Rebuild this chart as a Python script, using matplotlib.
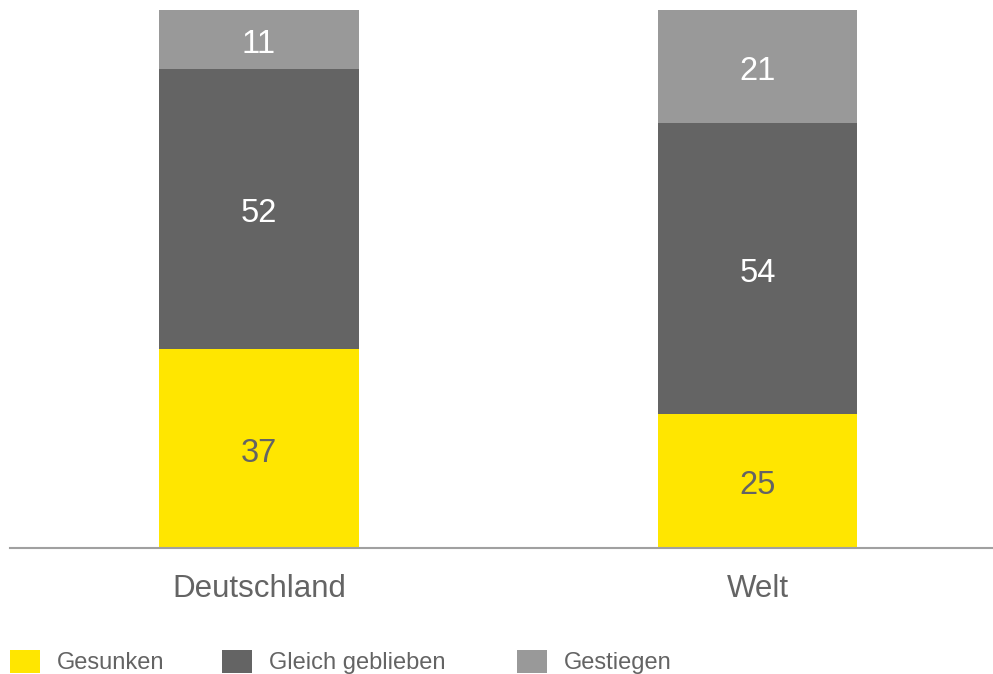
import matplotlib
matplotlib.use("Agg")
import matplotlib.pyplot as plt
from matplotlib.patches import Rectangle

categories = ["Deutschland", "Welt"]
series_names = ["Gesunken", "Gleich geblieben", "Gestiegen"]
gesunken = [37, 25]
gleich = [52, 54]
gestiegen = [11, 21]
series_values = [gesunken, gleich, gestiegen]
colors = ["#FFE600", "#646464", "#999999"]
text_colors = ["#646464", "white", "white"]

plt.rcParams['font.family'] = ['Liberation Sans', 'DejaVu Sans']

fig = plt.figure(figsize=(9.93, 6.74), dpi=100)
ax = fig.add_axes([10/993, (674-548)/674, 983/993, 538/674])

x = list(range(len(categories)))
bottom = [0]*len(categories)
for vals, c, tc in zip(series_values, colors, text_colors):
    bars = ax.bar(x, vals, width=0.4, bottom=bottom, color=c, edgecolor='none', zorder=2)
    for xi, b, v in zip(x, bottom, vals):
        ax.annotate(str(v), (xi, b + v/2), xytext=(0, -3.5), textcoords='offset points',
                    ha='center', va='center', fontsize=23.5, color=tc, zorder=3)
    bottom = [b + v for b, v in zip(bottom, vals)]

ax.set_xlim(-0.4995, 1.4725)
ax.set_ylim(0, 100)
for s in ['top', 'right', 'left']:
    ax.spines[s].set_visible(False)
ax.spines['bottom'].set_color('#A0A0A0')
ax.spines['bottom'].set_linewidth(1.5)
ax.set_yticks([])
ax.set_xticks(x)
ax.set_xticklabels(categories, fontsize=22.5, color='#646464')
ax.tick_params(axis='x', length=0, pad=19)

# legend
leg_x = [10, 222, 517]
for lx, name, c in zip(leg_x, series_names, colors):
    fig.patches.append(Rectangle((lx/993, 1/674), 30/993, 23/674, transform=fig.transFigure,
                                 facecolor=c, edgecolor='none'))
    fig.text((lx+47)/993, (674-663)/674, name, ha='left', va='center', fontsize=17, color='#646464')

fig.savefig("out.png", dpi=100)
